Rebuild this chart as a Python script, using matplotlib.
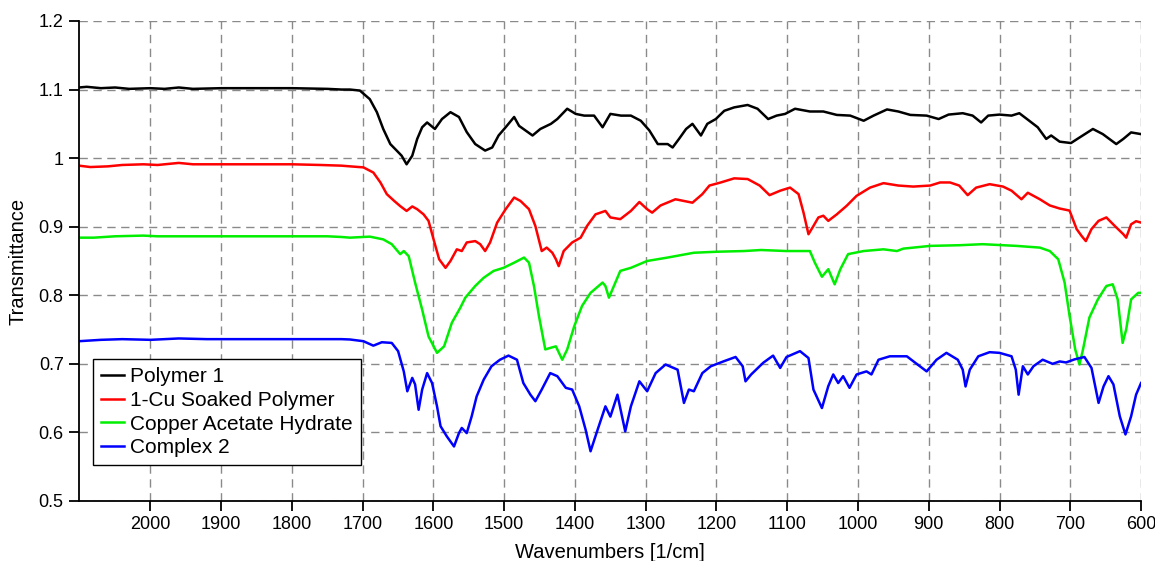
import numpy as np
import matplotlib
matplotlib.use("Agg")
import matplotlib.pyplot as plt

plt.rcParams['font.family'] = ['Liberation Sans', 'DejaVu Sans']

# spectra: wavenumber [1/cm], transmittance
polymer_wn = [2101, 2090, 2070, 2050, 2030, 2000, 1980, 1960, 1940, 1900, 1850, 1800, 1750, 1730,
              1718, 1704, 1690, 1680, 1671, 1661, 1652, 1645, 1638, 1630, 1623, 1616, 1609, 1598,
              1588, 1576, 1564, 1553, 1541, 1527, 1517, 1508, 1498, 1486, 1479, 1460, 1449, 1434,
              1425, 1411, 1399, 1387, 1373, 1361, 1350, 1335, 1321, 1307, 1295, 1283, 1269, 1262,
              1253, 1243, 1234, 1222, 1213, 1201, 1189, 1175, 1156, 1142, 1127, 1115, 1103, 1089,
              1068, 1049, 1030, 1011, 992, 978, 959, 943, 926, 903, 886, 872, 852, 838, 826, 816,
              800, 783, 772, 758, 746, 734, 727, 715, 699, 687, 668, 654, 635, 625, 614, 600]
polymer_t = [1.103, 1.104, 1.102, 1.103, 1.101, 1.102, 1.101, 1.103, 1.101, 1.102, 1.102, 1.102, 1.101, 1.100,
             1.100, 1.0985, 1.086, 1.067, 1.0425, 1.0205, 1.011, 1.0035, 0.991, 1.0035, 1.028, 1.045, 1.052, 1.0425,
             1.057, 1.067, 1.060, 1.038, 1.0205, 1.011, 1.0155, 1.033, 1.045, 1.060, 1.047, 1.033, 1.0425, 1.050,
             1.057, 1.072, 1.0645, 1.062, 1.062, 1.045, 1.0645, 1.062, 1.062, 1.0545, 1.0405, 1.0205, 1.0205, 1.0155,
             1.028, 1.0425, 1.050, 1.033, 1.050, 1.057, 1.069, 1.074, 1.0775, 1.072, 1.057, 1.062, 1.0645, 1.072,
             1.068, 1.068, 1.063, 1.062, 1.0545, 1.062, 1.071, 1.068, 1.063, 1.062, 1.057, 1.0635, 1.0655, 1.062, 1.052, 1.062,
             1.0635, 1.062, 1.0655, 1.0545, 1.045, 1.028, 1.033, 1.024, 1.022, 1.030, 1.0425, 1.035, 1.0205, 1.028, 1.0375, 1.035]

soaked_wn = [2101, 2085, 2060, 2040, 2010, 1990, 1960, 1940, 1900, 1850, 1800, 1760, 1730,
             1718, 1699, 1685, 1675, 1666, 1656, 1647, 1638, 1630, 1623, 1614, 1607, 1600, 1592,
             1583, 1576, 1567, 1560, 1553, 1541, 1534, 1527, 1520, 1510, 1498, 1486, 1477, 1465,
             1456, 1447, 1440, 1432, 1427, 1423, 1416, 1404, 1392, 1383, 1371, 1357, 1350, 1336,
             1321, 1309, 1298, 1291, 1279, 1258, 1234, 1220, 1210, 1194, 1175, 1156, 1139, 1125,
             1110, 1096, 1084, 1077, 1070, 1063, 1056, 1049, 1042, 1030, 1016, 1002, 983, 964, 943,
             922, 898, 884, 870, 857, 845, 833, 814, 795, 783, 769, 760, 743, 729, 715, 701, 691,
             684, 678, 670, 660, 649, 637, 625, 621, 614, 607, 600]
soaked_t = [0.989, 0.987, 0.988, 0.990, 0.991, 0.990, 0.993, 0.991, 0.991, 0.991, 0.991, 0.990, 0.989,
            0.988, 0.9865, 0.979, 0.9645, 0.9475, 0.938, 0.930, 0.923, 0.9295, 0.9255, 0.918, 0.9085, 0.882, 0.8525,
            0.840, 0.850, 0.867, 0.8645, 0.877, 0.879, 0.8745, 0.8645, 0.877, 0.906, 0.9255, 0.9425, 0.9375, 0.9255,
            0.901, 0.8645, 0.8695, 0.862, 0.8525, 0.8425, 0.8645, 0.877, 0.884, 0.901, 0.918, 0.923, 0.9135, 0.911,
            0.923, 0.936, 0.9255, 0.9205, 0.931, 0.940, 0.935, 0.9475, 0.960, 0.9645, 0.9705, 0.9695, 0.960, 0.946,
            0.9525, 0.957, 0.9475, 0.9205, 0.889, 0.901, 0.9135, 0.916, 0.9085, 0.918, 0.9305, 0.945, 0.957, 0.9635, 0.960,
            0.9585, 0.960, 0.9645, 0.9645, 0.960, 0.946, 0.957, 0.962, 0.9585, 0.9525, 0.940, 0.9495, 0.940, 0.931, 0.9265, 0.9235, 0.8965,
            0.8865, 0.879, 0.8965, 0.9085, 0.9135, 0.901, 0.889, 0.884, 0.9035, 0.908, 0.906]

acetate_wn = [2101, 2080, 2050, 2010, 1990, 1950, 1900, 1850, 1800, 1750, 1730,
              1718, 1690, 1671, 1659, 1647, 1642, 1635, 1626, 1616, 1607, 1595, 1585, 1574, 1562,
              1555, 1541, 1529, 1515, 1501, 1486, 1472, 1465, 1458, 1451, 1442, 1434, 1427, 1418,
              1411, 1401, 1390, 1378, 1361, 1357, 1352, 1345, 1336, 1321, 1298, 1269, 1232, 1199,
              1161, 1137, 1101, 1068, 1061, 1051, 1042, 1033, 1025, 1014, 992, 964, 945, 936, 898,
              856, 824, 776, 743, 729, 717, 708, 701, 693, 687, 682, 673, 661, 649, 640, 633, 626,
              621, 614, 604, 600]
acetate_t = [0.884, 0.884, 0.886, 0.887, 0.886, 0.886, 0.886, 0.886, 0.886, 0.886, 0.885,
             0.884, 0.8855, 0.8815, 0.8745, 0.860, 0.8645, 0.857, 0.8185, 0.779, 0.740, 0.716, 0.7255, 0.760, 0.782,
             0.7965, 0.8135, 0.8255, 0.8355, 0.840, 0.8475, 0.855, 0.8475, 0.8135, 0.770, 0.721, 0.7235, 0.7255, 0.706,
             0.721, 0.755, 0.7845, 0.8035, 0.8185, 0.8135, 0.7965, 0.8135, 0.8355, 0.840, 0.850, 0.855, 0.862, 0.8635,
             0.8645, 0.866, 0.8645, 0.8645, 0.8475, 0.827, 0.838, 0.816, 0.838, 0.860, 0.8645, 0.867, 0.8645, 0.868, 0.872,
             0.873, 0.8745, 0.872, 0.8695, 0.8645, 0.8525, 0.8185, 0.770, 0.721, 0.699, 0.721, 0.7675, 0.794, 0.8135, 0.816, 0.794, 0.7305,
             0.750, 0.794, 0.8035, 0.8035]

complex_wn = [2101, 2070, 2040, 2000, 1960, 1920, 1880, 1850, 1800, 1760, 1730,
              1718, 1699, 1685, 1673, 1659, 1650, 1642, 1637, 1630, 1626, 1621, 1616, 1609, 1602,
              1595, 1590, 1581, 1571, 1564, 1560, 1553, 1546, 1539, 1529, 1518, 1506, 1494, 1482,
              1473, 1463, 1456, 1447, 1435, 1425, 1413, 1404, 1394, 1385, 1378, 1368, 1357, 1350,
              1340, 1329, 1321, 1309, 1298, 1286, 1272, 1255, 1246, 1239, 1232, 1220, 1208, 1189,
              1173, 1163, 1159, 1151, 1134, 1120, 1110, 1101, 1082, 1070, 1063, 1051, 1042, 1035,
              1028, 1021, 1012, 1002, 988, 981, 971, 955, 931, 919, 903, 889, 875, 859, 852, 848,
              842, 830, 814, 800, 783, 777, 773, 767, 760, 752, 739, 725, 715, 706, 694, 680, 670,
              660, 653, 646, 639, 630, 622, 614, 607, 600]
complex_t = [0.733, 0.735, 0.736, 0.735, 0.737, 0.736, 0.736, 0.736, 0.736, 0.736, 0.736,
             0.7355, 0.733, 0.7265, 0.7315, 0.7305, 0.7185, 0.689, 0.660, 0.6795, 0.670, 0.633, 0.6625, 0.6865, 0.672,
             0.638, 0.609, 0.594, 0.5795, 0.599, 0.6065, 0.599, 0.6235, 0.6525, 0.677, 0.6965, 0.706, 0.712, 0.706,
             0.672, 0.655, 0.6455, 0.6625, 0.6865, 0.682, 0.665, 0.6625, 0.638, 0.604, 0.5725, 0.604, 0.638, 0.623,
             0.655, 0.6015, 0.638, 0.6745, 0.660, 0.6865, 0.699, 0.6915, 0.643, 0.6625, 0.660, 0.6865, 0.6965, 0.704,
             0.710, 0.6965, 0.6745, 0.6845, 0.7015, 0.712, 0.694, 0.710, 0.7185, 0.7085, 0.6625, 0.6355, 0.6675, 0.6845,
             0.672, 0.682, 0.665, 0.6845, 0.689, 0.6845, 0.706, 0.711, 0.711, 0.7015, 0.689, 0.706, 0.716, 0.706, 0.6915, 0.667,
             0.6915, 0.711, 0.717, 0.716, 0.711, 0.6915, 0.655, 0.6965, 0.6845, 0.6965, 0.706, 0.700, 0.7035, 0.702, 0.7065, 0.710, 0.694,
             0.643, 0.667, 0.682, 0.670, 0.6235, 0.597, 0.6235, 0.655, 0.672]

series = [
    ("Polymer 1", polymer_wn, polymer_t, "black"),
    ("1-Cu Soaked Polymer", soaked_wn, soaked_t, "#ff0000"),
    ("Copper Acetate Hydrate", acetate_wn, acetate_t, "#00ee00"),
    ("Complex 2", complex_wn, complex_t, "#0000ff"),
]

fig = plt.figure(figsize=(11.55, 5.61), dpi=100)
ax = fig.add_axes([0.0684, 0.107, 0.9195, 0.8556])

for label, wn, t, col in series:
    ax.plot(wn, t, color=col, lw=1.8, label=label)

ax.set_xlim(2101, 600)
ax.set_ylim(0.5, 1.2)
ax.set_xticks(np.arange(2000, 599, -100))
ax.set_yticks([0.5, 0.6, 0.7, 0.8, 0.9, 1.0, 1.1, 1.2])
ax.set_yticklabels(["0.5", "0.6", "0.7", "0.8", "0.9", "1", "1.1", "1.2"])

ax.grid(True, color="#8a8a8a", linestyle=(0, (6, 4)), linewidth=1.0)
ax.set_axisbelow(True)
for side in ["top", "right"]:
    ax.spines[side].set_visible(False)
for side in ["left", "bottom"]:
    ax.spines[side].set_linewidth(1.3)
ax.tick_params(direction="out", length=7, width=1.3, labelsize=13, pad=4)

ax.set_xlabel("Wavenumbers [1/cm]", fontsize=14.5, labelpad=7)
ax.set_ylabel("Transmittance", fontsize=14.5, labelpad=8)

leg = ax.legend(loc="lower left", bbox_to_anchor=(0.013, 0.074), borderaxespad=0,
                fontsize=15, fancybox=False, framealpha=1, edgecolor="black",
                handlelength=1.1, handletextpad=0.3, labelspacing=0.22, borderpad=0.4)
leg.get_frame().set_linewidth(1.0)

fig.savefig("out.png", dpi=100)
